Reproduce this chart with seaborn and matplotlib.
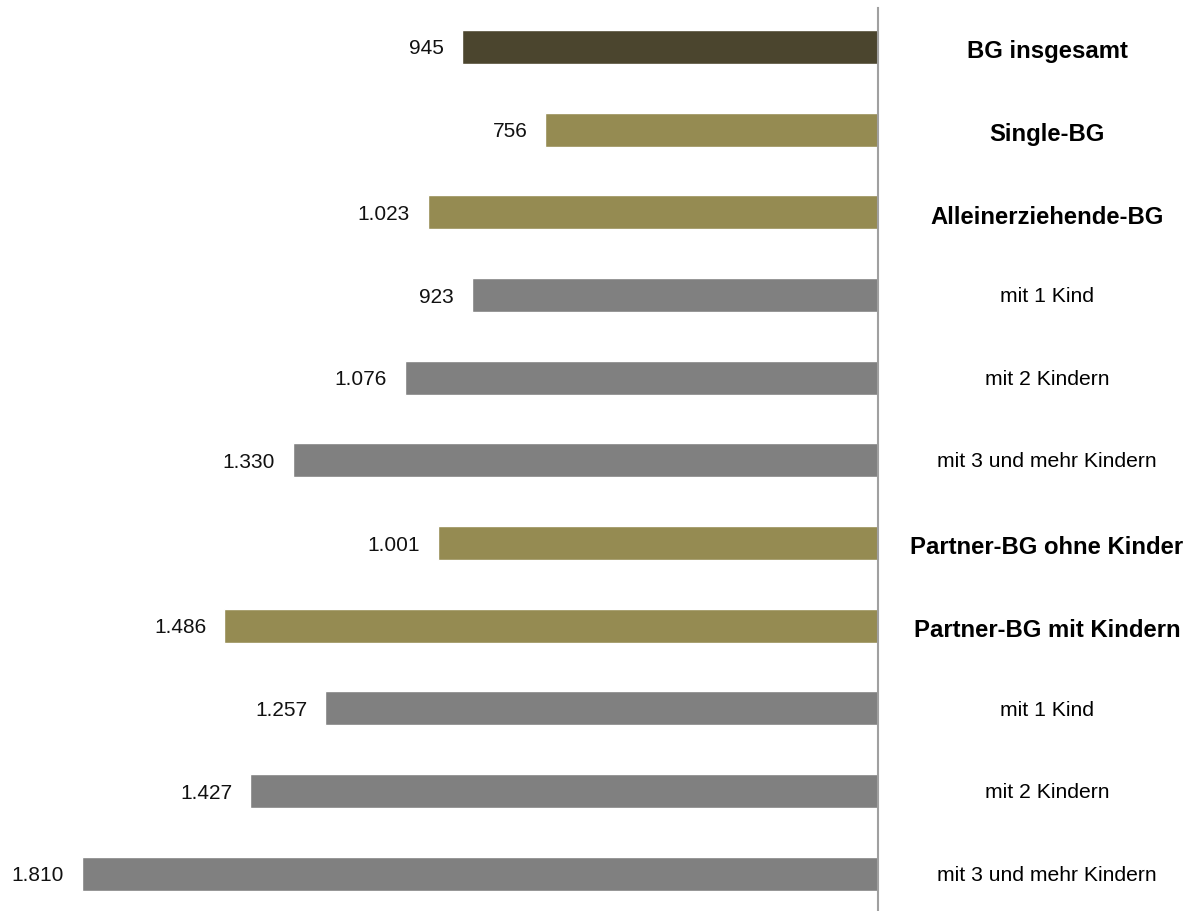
import matplotlib
matplotlib.use("Agg")
import matplotlib.pyplot as plt
import matplotlib.transforms as mtransforms
import pandas as pd
import seaborn as sns

# Data
categories = ["BG insgesamt", "Single-BG", "Alleinerziehende-BG", "mit 1 Kind ", "mit 2 Kindern ",
              "mit 3 und mehr Kindern ", "Partner-BG ohne Kinder", "Partner-BG mit Kindern",
              "mit 1 Kind", "mit 2 Kindern", "mit 3 und mehr Kindern"]
values = [945, 756, 1023, 923, 1076, 1330, 1001, 1486, 1257, 1427, 1810]
groups = ["total", "main", "main", "sub", "sub", "sub", "main", "main", "sub", "sub", "sub"]

palette = {"total": "#4b452e", "main": "#958b52", "sub": "#808080"}
bold_groups = {"total", "main"}

df = pd.DataFrame({"cat": categories, "val": [-v for v in values], "group": groups})

sns.set_style("white")
plt.rcParams["font.family"] = ["Liberation Sans", "DejaVu Sans"]

fig = plt.figure(figsize=(11.93, 9.11), dpi=100)
ax = fig.add_axes([0, 0, 878 / 1193, 903 / 911])

sns.barplot(data=df, x="val", y="cat", hue="group", palette=palette, dodge=False,
            width=0.41, saturation=1, legend=False, ax=ax, orient="h")

ax.set_xlim(-1996, 0)
ax.set_ylim(10.45, -0.47)

for s in ["top", "left", "bottom"]:
    ax.spines[s].set_visible(False)
ax.spines["right"].set_visible(True)
ax.spines["right"].set_color("#a0a0a0")
ax.spines["right"].set_linewidth(1.5)
ax.set_xticks([])
ax.set_yticks([])
ax.set_xlabel("")
ax.set_ylabel("")

# value labels at the bar ends, German thousands separator
for i, v in enumerate(values):
    label = f"{v:,}".replace(",", ".")
    ax.annotate(label, xy=(-v, i), xytext=(-13, -1.5), textcoords="offset points",
                ha="right", va="center", fontsize=15, color="#111111")

# category labels on the right side
trans = mtransforms.blended_transform_factory(fig.transFigure, ax.transData)
for i, (c, g) in enumerate(zip(categories, groups)):
    bold = g in bold_groups
    ax.text(1047 / 1193, i + (0.06 if bold else 0.02), c.strip(), transform=trans,
            ha="center", va="center", fontsize=17.2 if bold else 15.2,
            fontweight="bold" if bold else "normal", color="black", clip_on=False)

fig.savefig("out.png", dpi=100)
